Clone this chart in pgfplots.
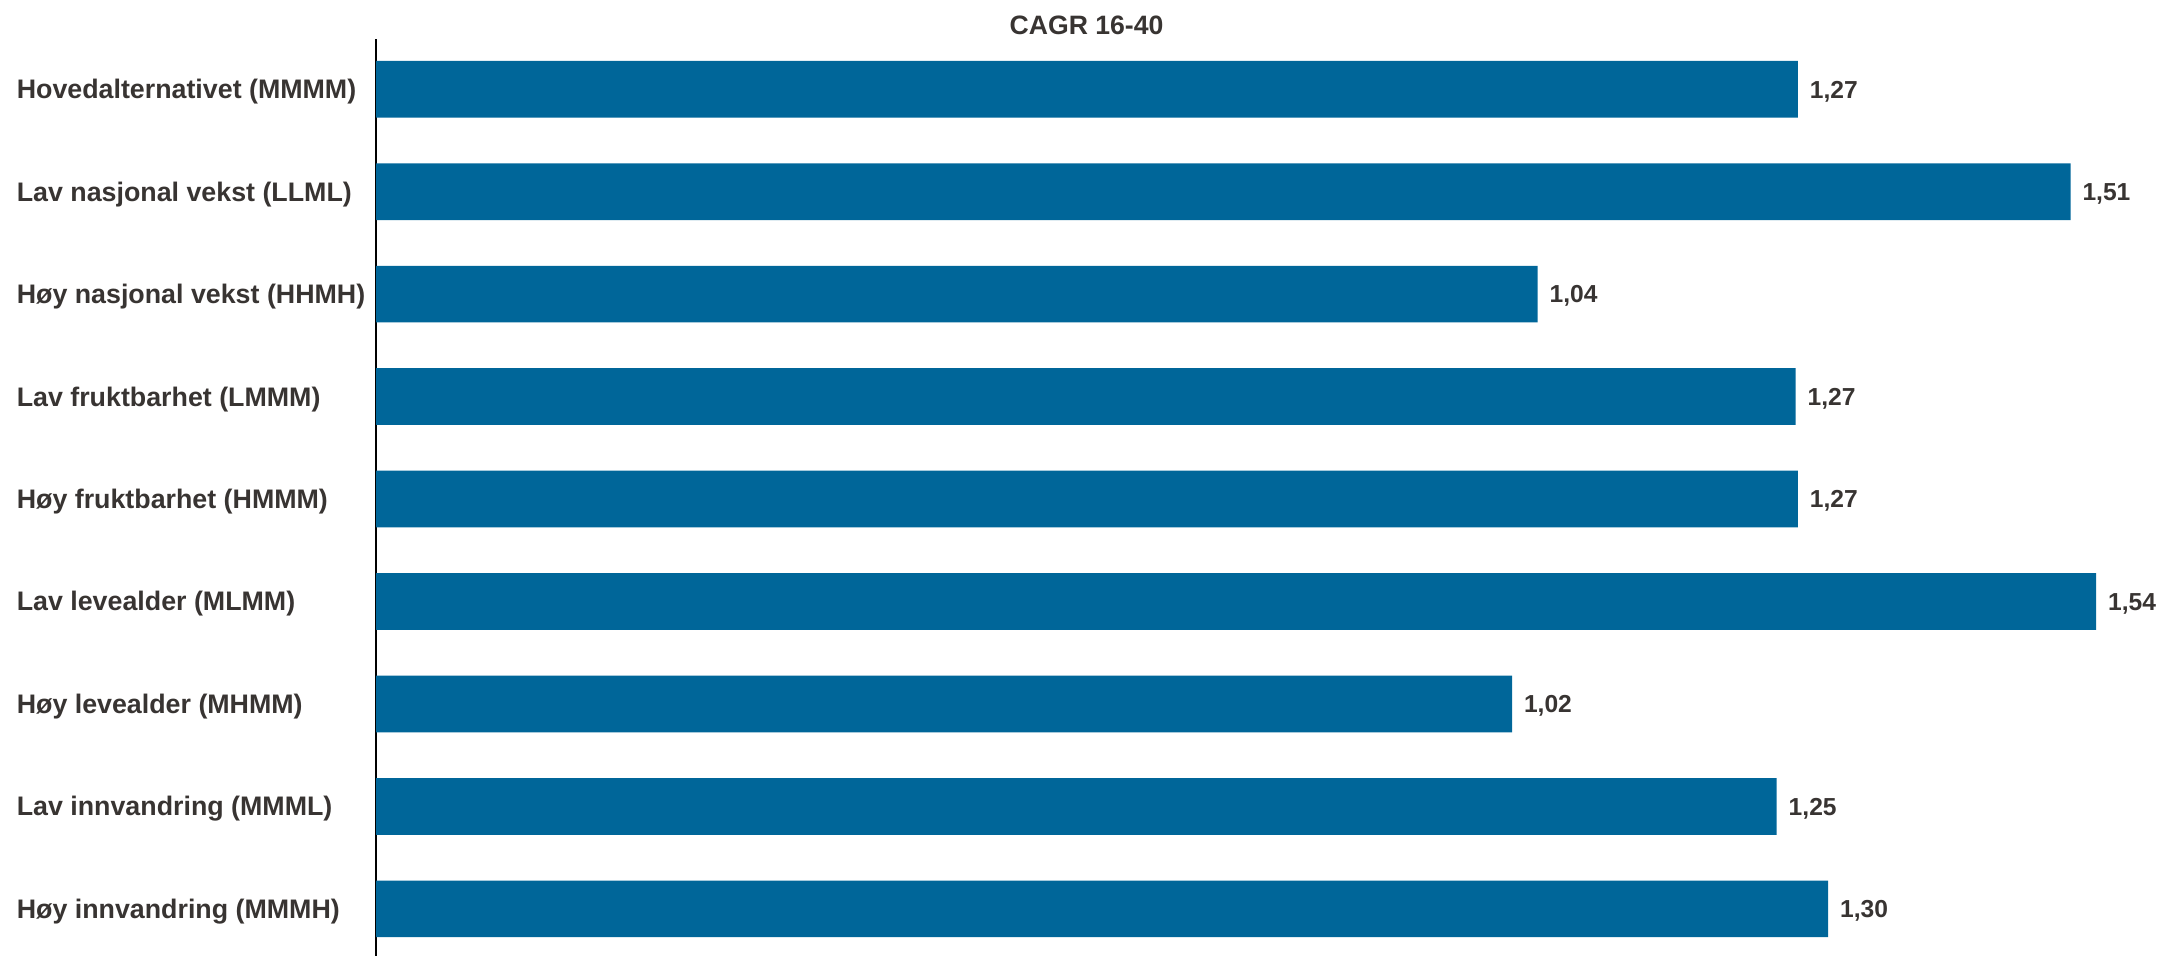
\documentclass[border=0pt]{standalone}
\usepackage{fontspec}
\setmainfont{Liberation Sans}
\usepackage{pgfplots}
\pgfplotsset{compat=1.18}
\definecolor{barblue}{RGB}{0,102,153}
\definecolor{txt}{RGB}{56,52,50}
\begin{document}
\begin{tikzpicture}
\begin{axis}[
  at={(188pt,0pt)}, anchor=south west,
  scale only axis, width=893.6pt, height=458.5pt,
  xbar, bar width=28.35pt, bar shift=0pt,
  xmin=0, xmax=1.6,
  ymin=-0.49, ymax=8.46, y dir=reverse,
  axis y line*=left, axis x line=none,
  y axis line style={line width=0.85pt, black},
  ytick={0,...,8},
  yticklabels={Hovedalternativet (MMMM),Lav nasjonal vekst (LLML),Høy nasjonal vekst (HHMH),Lav fruktbarhet (LMMM),Høy fruktbarhet (HMMM),Lav levealder (MLMM),Høy levealder (MHMM),Lav innvandring (MMML),Høy innvandring (MMMH)},
  major tick length=0pt,
  yticklabel style={anchor=base west, xshift=-179.8pt, yshift=-4.75pt, inner sep=0pt, font=\fontsize{13.4}{15}\selectfont\bfseries, text=txt},
  clip=false,
  point meta=explicit,
  nodes near coords={\pgfmathprintnumber[fixed,fixed zerofill,precision=2,use comma,assume math mode=true]{\pgfplotspointmeta}},
  nodes near coords style={anchor=base west, inner sep=0pt, xshift=5.8pt, yshift=-4.4pt, font=\fontsize{12.3}{14}\selectfont\bfseries, text=txt},
]
\addplot[fill=barblue, draw=none] coordinates {
(1.273,0) [1.27]
(1.517,1) [1.51]
(1.040,2) [1.04]
(1.271,3) [1.27]
(1.273,4) [1.27]
(1.540,5) [1.54]
(1.017,6) [1.02]
(1.254,7) [1.25]
(1.300,8) [1.30]
};
\end{axis}
\node[anchor=base, font=\fontsize{13.3}{15}\selectfont\bfseries, text=txt] at (543.3pt,460.85pt) {CAGR 16-40};
\pgfresetboundingbox
\useasboundingbox (0,0) rectangle (1081.5pt,478pt);
\end{tikzpicture}
\end{document}
